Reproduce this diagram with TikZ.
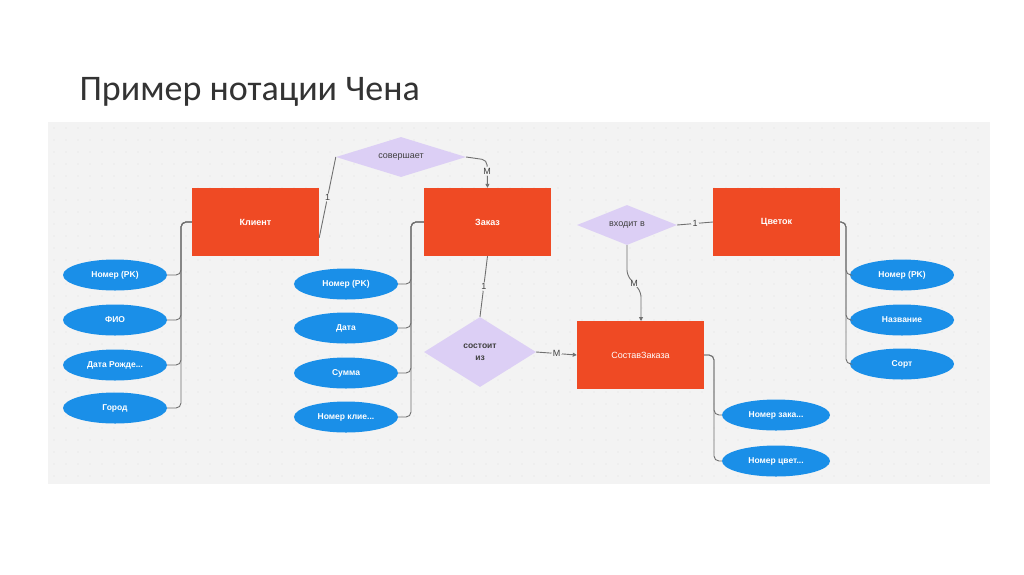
\documentclass[tikz,border=0pt]{standalone}
\usepackage{fontspec}
\setmainfont{Liberation Sans}
\newfontfamily\titlefont{Carlito}
\usetikzlibrary{shapes.geometric,arrows.meta}
\definecolor{ent}{HTML}{EF4A24}
\definecolor{rel}{HTML}{DCCFF5}
\definecolor{attr}{HTML}{1A8FE8}
\definecolor{panel}{HTML}{F3F3F3}
\definecolor{lnc}{HTML}{707070}
\tikzset{
 ent/.style={fill=ent,minimum width=127pt,minimum height=68pt,text=white,font=\bfseries\fontsize{9}{10}\selectfont},
 rel/.style={diamond,fill=rel,aspect=2.8,inner sep=0pt,text=black!75,font=\fontsize{9}{10}\selectfont,align=center},
 attr/.style={ellipse,fill=attr,minimum width=104pt,minimum height=31pt,inner sep=0pt,text=white,font=\bfseries\fontsize{8.5}{9}\selectfont},
 ln/.style={draw=lnc,line width=0.9pt,rounded corners=5pt},
 lab/.style={fill=panel,inner sep=1.5pt,font=\fontsize{9}{10}\selectfont,text=black!75},
 arr/.style={-{Triangle[length=4pt,width=4pt]}}
}
\begin{document}
\begin{tikzpicture}[x=1pt,y=-1pt]
\useasboundingbox[fill=white] (0,0) rectangle (1024,574);
\node[anchor=base west,font=\titlefont\fontsize{36}{40}\selectfont,text=black!80] (title) at (76,100) {Пример нотации Чена};
\fill[panel] (48,122) rectangle (990,484);
\foreach \x in {54,66,...,986}{\foreach \y in {128,140,...,480}{\fill[black!13] (\x,\y) circle (0.6pt);}}
% entities
\node[ent] (kl) at (255.5,222) {Клиент};
\node[ent] (zk) at (487.5,222) {Заказ};
\node[ent] (cv) at (776.5,222) {Цветок};
\node[ent,font=\fontsize{9}{10}\selectfont] (sz) at (640.5,355) {СоставЗаказа};
% relations
\node[rel,minimum width=130pt,minimum height=40pt] (sv) at (401,157) {совершает};
\node[rel,minimum width=100pt,minimum height=40pt] (vh) at (627,225) {входит в};
\node[rel,minimum width=112pt,minimum height=70pt,font=\bfseries\fontsize{8.5}{12}\selectfont] (si) at (480,352) {состоит\\из};
% attributes
\node[attr] (a1) at (115,275) {Номер (PK)};
\node[attr] (a2) at (115,320) {ФИО};
\node[attr] (a3) at (115,365) {Дата Рожде...};
\node[attr] (a4) at (115,408) {Город};
\node[attr] (b1) at (346,284) {Номер (PK)};
\node[attr] (b2) at (346,328) {Дата};
\node[attr] (b3) at (346,373) {Сумма};
\node[attr] (b4) at (346,417) {Номер клие...};
\node[attr] (c1) at (902,275) {Номер (PK)};
\node[attr] (c2) at (902,320) {Название};
\node[attr] (c3) at (902,364) {Сорт};
\node[attr,minimum width=108pt] (d1) at (776,415) {Номер зака...};
\node[attr,minimum width=108pt] (d2) at (776,461) {Номер цвет...};
% attribute connectors
\foreach \a in {a1,a2,a3,a4}{\draw[ln] (kl.west) -- (181,222) |- (\a.east);}
\foreach \a in {b1,b2,b3,b4}{\draw[ln] (zk.west) -- (411,222) |- (\a.east);}
\foreach \a in {c1,c2,c3}{\draw[ln] (cv.east) -- (846,222) |- (\a.west);}
\foreach \a in {d1,d2}{\draw[ln] (sz.east) -- (714,355) |- (\a.west);}
% relationship connectors
\draw[ln] (319,270|-kl.east) ++(0,50) coordinate (k1);
\draw[ln] (kl.north east) ++(0,50) -- node[lab]{1} (sv.west);
\draw[ln,arr] (sv.east) -- (487,160) -- node[lab,pos=0.4]{М} (zk.north);
\draw[ln] (zk.south) -- node[lab]{1} (si.north);
\draw[ln,arr] (si.east) -- node[lab]{М} (sz.west);
\draw[ln] (vh.east) -- node[lab]{1} (cv.west);
\draw[ln,arr] (vh.south) -- (627,275) -- node[lab]{М} (641,292) -- (641,321);
\end{tikzpicture}
\end{document}
